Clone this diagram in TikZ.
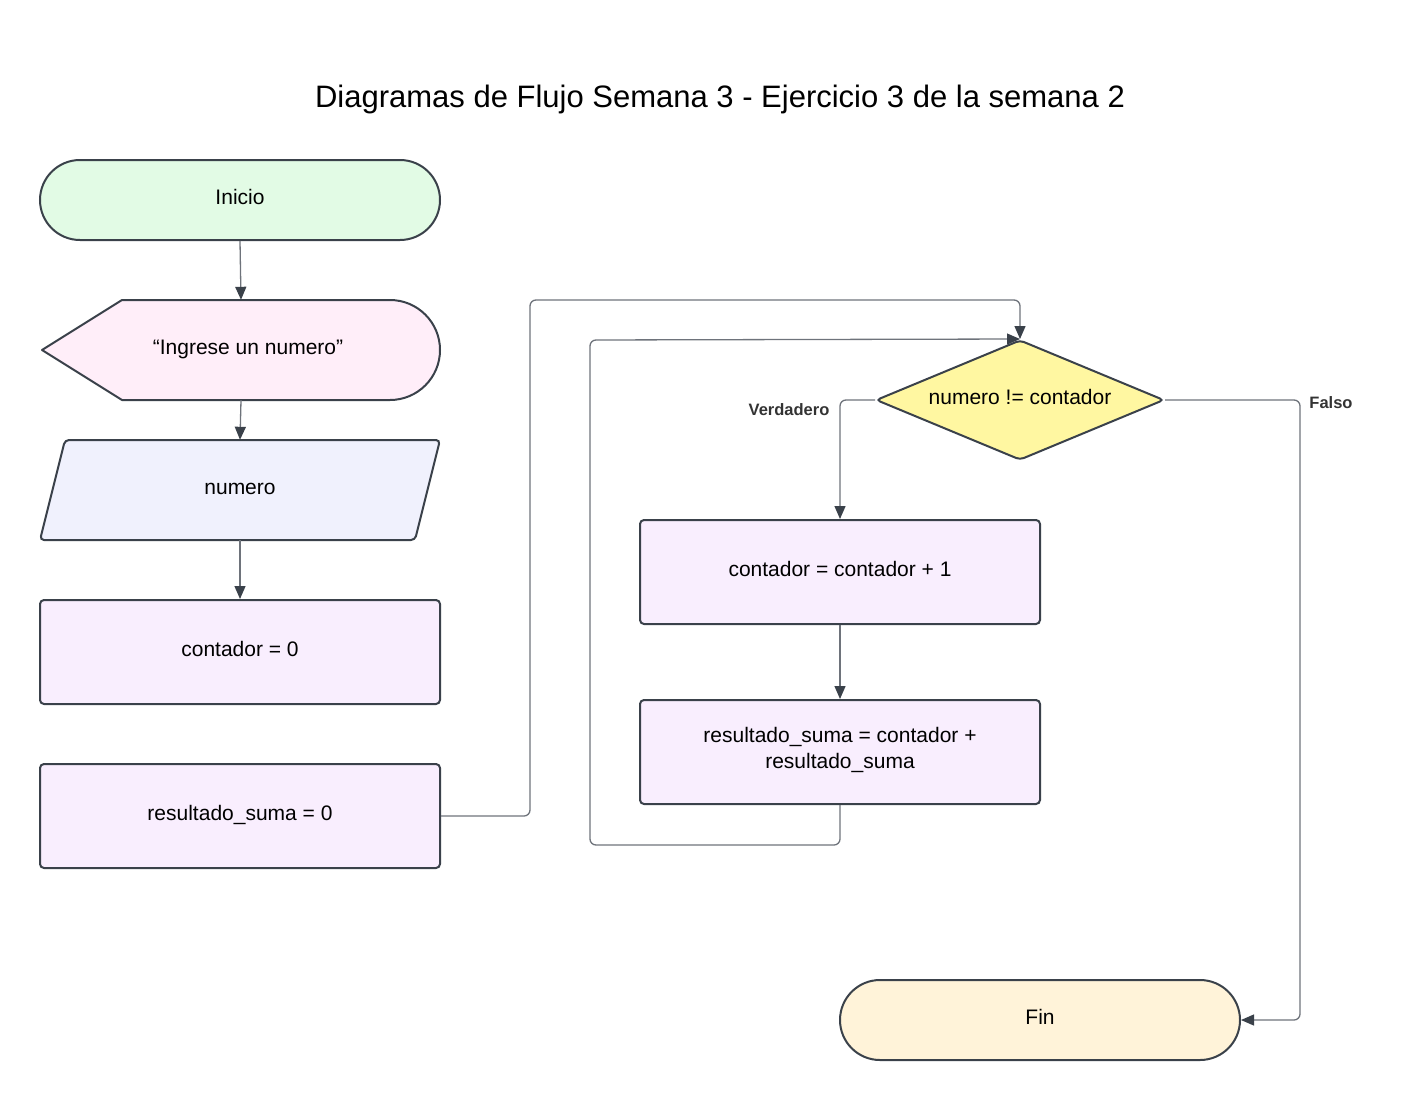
\documentclass[tikz,border=0pt]{standalone}
\usepackage{fontspec}
\setmainfont{Liberation Sans}
\usetikzlibrary{shapes.geometric,arrows.meta}
\definecolor{edgec}{HTML}{3A414A}
\definecolor{linec}{HTML}{6E737B}
\definecolor{cgreen}{HTML}{E2FBE5}
\definecolor{cpink}{HTML}{FFEEF9}
\definecolor{cblue}{HTML}{F0F1FD}
\definecolor{cviolet}{HTML}{F9EEFE}
\definecolor{cyellow}{HTML}{FFF7A1}
\definecolor{corange}{HTML}{FFF3D9}
\tikzset{
  txt/.style={font=\fontsize{21}{26}\selectfont, align=center, inner sep=0pt, text height=15pt, text depth=6pt},
  shapeline/.style={draw=edgec, line width=2pt},
  procbox/.style={txt, shapeline, fill=cviolet, rectangle, rounded corners=4pt, minimum width=400pt, minimum height=104pt},
  termbox/.style={txt, shapeline, rectangle, rounded corners=40pt, minimum width=400pt, minimum height=80pt},
  conn/.style={draw=linec, line width=1.3pt, rounded corners=6pt},
  arr/.style={conn, -{Triangle[length=13pt,width=11pt,fill=edgec,color=edgec]}},
  lbl/.style={font=\fontsize{16.5}{20}\bfseries\selectfont, text=black!80, inner sep=0pt},
}
\begin{document}
\begin{tikzpicture}[x=1pt,y=-1pt]
\useasboundingbox (0,0) rectangle (1420,1100);
% title
\node[font=\fontsize{31}{36}\selectfont, inner sep=0pt, anchor=base] (title) at (720,107) {Diagramas de Flujo Semana 3 - Ejercicio 3 de la semana 2};
% start
\node[termbox, fill=cgreen] (ini) at (240,200) {Inicio};
% display shape
\node[minimum width=398pt, minimum height=100pt, inner sep=0pt] (disp) at (241,350) {};
\draw[shapeline, fill=cpink, line join=round] (42,350) -- (122,300) -- (390,300)
  .. controls (417.6,300) and (440,322.4) .. (440,350)
  .. controls (440,377.6) and (417.6,400) .. (390,400) -- (122,400) -- cycle;
\node[txt] (dispt) at (248,350) {“Ingrese un numero”};
% parallelogram
\node[minimum width=400pt, minimum height=100pt, inner sep=0pt] (par) at (240,490) {};
\draw[shapeline, fill=cblue, rounded corners=4pt] (65,440) -- (440,440) -- (415,540) -- (40,540) -- cycle;
\node[txt] (part) at (240,490) {numero};
% process boxes
\node[procbox] (c0) at (240,652) {contador = 0};
\node[procbox] (r0) at (240,816) {resultado\_suma = 0};
\node[procbox] (inc) at (840,572) {contador = contador + 1};
\node[procbox, text height=, text depth=] (sum) at (840,752) {};
\node[font=\fontsize{21}{26}\selectfont, align=center, inner sep=0pt] (sumt) at (840,750) {resultado\_suma = contador +\\resultado\_suma};
% decision
\node[diamond, shapeline, fill=cyellow, aspect=2.38, minimum width=288pt, minimum height=120pt, inner sep=0pt, rounded corners=4pt] (dec) at (1020,400) {};
\node[txt] (dect) at (1020,400) {numero != contador};
% end
\node[termbox, fill=corange] (fin) at (1040,1020) {Fin};
% connectors
\draw[arr] (ini.south) -- (disp.north);
\draw[arr] (disp.south) -- (par.north);
\draw[arr] (par.south) -- (c0.north);
\draw[arr] (r0.east) -- (530,816) -- (530,300) -- (1020,300) -- (dec.north);
\draw[arr] (sum.south) -- (840,845) -- (590,845) -- (590,340) -- (dec.north);
\draw[arr] (dec.west) -- (840,400) -- (inc.north);
\draw[arr] (inc.south) -- (sum.north);
\draw[arr] (dec.east) -- (1300,400) -- (1300,1020) -- (fin.east);
% labels
\node[lbl] (lv) at (789,410) {Verdadero};
\node[lbl] (lf) at (1331,403) {Falso};
\end{tikzpicture}
\end{document}
